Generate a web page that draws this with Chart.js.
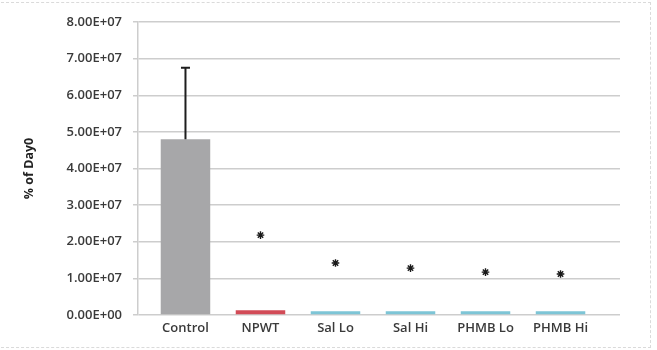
<!DOCTYPE html>
<html>
<head>
<meta charset="utf-8">
<script src="https://cdn.jsdelivr.net/npm/chart.js@4/dist/chart.umd.min.js"></script>
<style>
  html, body { margin: 0; padding: 0; background: #ffffff; }
  #frame {
    position: relative;
    width: 657px; height: 350px;
    box-sizing: border-box;
  }
  #frame::before {
    content: ""; position: absolute; left: -4px; top: 2px; right: 6px; bottom: 2px;
    border: 1.5px dashed #dadada; border-left: none; pointer-events: none;
  }
  canvas { position: absolute; left: 0; top: 0; }
</style>
</head>
<body>
<div id="frame"><canvas id="c" width="657" height="350"></canvas></div>
<script>
// Groups and measured levels (% of Day 0)
const categories = ['Control', 'NPWT', 'Sal Lo', 'Sal Hi', 'PHMB Lo', 'PHMB Hi'];
const means = [4.8e7, 1.3e6, 1.0e6, 1.0e6, 1.0e6, 1.0e6];
const errorUp = [1.95e7, null, null, null, null, null];
// Height at which the significance asterisk sits above each group
const sigMarkers = [null, 2.18e7, 1.42e7, 1.28e7, 1.17e7, 1.12e7];
const yTicks = [0, 1e7, 2e7, 3e7, 4e7, 5e7, 6e7, 7e7, 8e7];
const barColors = ['#a7a7a9', '#d24b57', '#7dc5d6', '#7dc5d6', '#7dc5d6', '#7dc5d6'];

const fmtSci = v => {
  if (v === 0) return '0.00E+00';
  const e = Math.floor(Math.log10(Math.abs(v)));
  const m = v / Math.pow(10, e);
  return m.toFixed(2) + 'E+' + String(e).padStart(2, '0');
};

// Draws the upper error whisker with a cap
const errorBarPlugin = {
  id: 'errorBars',
  afterDatasetsDraw(chart) {
    const { ctx, scales: { x, y } } = chart;
    ctx.save();
    ctx.strokeStyle = '#1e1e1e';
    ctx.lineWidth = 2;
    errorUp.forEach((err, i) => {
      if (err == null) return;
      const px = x.getPixelForValue(i);
      const y0 = y.getPixelForValue(means[i]);
      const y1 = y.getPixelForValue(means[i] + err);
      ctx.beginPath();
      ctx.moveTo(px, y0);
      ctx.lineTo(px, y1);
      ctx.moveTo(px - 4.5, y1);
      ctx.lineTo(px + 4.5, y1);
      ctx.stroke();
    });
    ctx.restore();
  }
};

const xMin = -0.633, xMax = 5.793;
const labelFont = { family: 'Open Sans', size: 13, weight: '600' };

new Chart(document.getElementById('c'), {
  type: 'bar',
  data: {
    datasets: [
      {
        type: 'bar',
        data: means.map((v, i) => ({ x: i, y: v })),
        backgroundColor: barColors,
        borderWidth: 0,
        barPercentage: 0.66,
        categoryPercentage: 1,
        order: 2
      },
      {
        type: 'scatter',
        data: sigMarkers.map((v, i) => ({ x: i, y: v })).filter(p => p.y != null),
        pointStyle: 'star',
        radius: 3.8,
        borderColor: '#1a1a1a',
        backgroundColor: '#1a1a1a',
        borderWidth: 1.4,
        order: 1
      }
    ]
  },
  options: {
    responsive: false,
    animation: false,
    layout: { padding: { left: 0, right: 37, top: 22, bottom: 0 } },
    plugins: { legend: { display: false }, tooltip: { enabled: false } },
    scales: {
      x: {
        type: 'linear',
        min: xMin,
        max: xMax,
        offset: false,
        grid: { display: false, drawTicks: false, tickLength: 0 },
        border: { display: false },
        ticks: {
          stepSize: 1,
          includeBounds: false,
          autoSkip: false,
          maxRotation: 0,
          padding: 5,
          color: '#3a3a3a',
          font: labelFont,
          callback: v => (Number.isInteger(v) && categories[v]) ? categories[v] : ''
        },
        afterFit(s) { s.height = 35; }
      },
      y: {
        min: 0,
        max: 8e7,
        afterBuildTicks(s) { s.ticks = yTicks.map(v => ({ value: v })); },
        grid: { color: '#cdcdcd', lineWidth: 1.5, drawTicks: true, tickLength: 5, tickColor: '#cdcdcd' },
        border: { display: true, color: '#cdcdcd', width: 1.5 },
        ticks: {
          padding: 11,
          color: '#3a3a3a',
          font: labelFont,
          callback: v => fmtSci(v)
        },
        title: {
          display: true,
          text: '% of Day0',
          color: '#222222',
          font: { family: 'Open Sans', size: 12.5, weight: 'bold' },
          padding: { top: 22, bottom: 0 }
        },
        afterFit(s) { s.width = 138; }
      }
    }
  },
  plugins: [errorBarPlugin]
});
</script>
</body>
</html>
